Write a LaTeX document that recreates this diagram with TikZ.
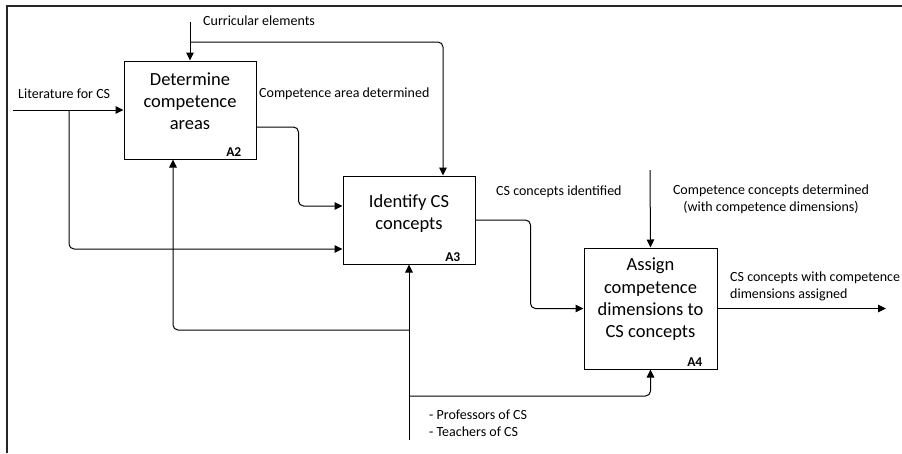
\documentclass[tikz,border=0pt]{standalone}
\usepackage{fontspec}
\setmainfont{Carlito}
\usetikzlibrary{arrows.meta}
\begin{document}
\begin{tikzpicture}[x=1pt,y=-1pt,
  procbox/.style={draw, line width=1pt, inner sep=0pt},
  boxtxt/.style={align=center, inner sep=0pt, font=\fontsize{18.5}{22.3}\selectfont},
  idlbl/.style={inner sep=0pt, anchor=south east, font=\bfseries\fontsize{13.5}{15}\selectfont},
  lbl/.style={inner sep=0pt, align=left, font=\fontsize{14}{16.7}\selectfont},
  flow/.style={line width=1pt, rounded corners=5pt, -{Triangle[length=8pt,width=7.5pt]}},
  plain/.style={line width=1pt, rounded corners=5pt}]
\useasboundingbox (0,0) rectangle (902,453);
\draw[line width=2.5pt, black!85] (7,453) -- (7,6) -- (902,6);

% boxes
\node[procbox, minimum width=132pt, minimum height=98pt] (a2) at (190,110) {};
\node[procbox, minimum width=132pt, minimum height=88pt] (a3) at (409,220) {};
\node[procbox, minimum width=133pt, minimum height=121pt] (a4) at (650.5,308.5) {};
\node[boxtxt] (t2) at (190,101) {Determine\\competence\\areas};
\node[boxtxt] (t3) at (409,213.5) {Identify CS\\concepts};
\node[boxtxt] (t4) at (650.5,299.5) {Assign\\competence\\dimensions to\\CS concepts};
\node[idlbl] (l2) at ([xshift=-15pt,yshift=3pt]a2.south east) {A2};
\node[idlbl] (l3) at ([xshift=-15pt,yshift=3pt]a3.south east) {A3};
\node[idlbl] (l4) at ([xshift=-15pt,yshift=3pt]a4.south east) {A4};

% free ends
\coordinate (ce) at (190,22);
\coordinate (j1) at (190,42);
\coordinate (lit) at (13,110);
\coordinate (j2) at (69,110);
\coordinate (cc) at (650,170);
\coordinate (out) at (886,308.5);
\coordinate (mech) at (409,440);
\coordinate (j3) at (409,330);
\coordinate (j4) at (409,396);

% controls
\draw[flow] (ce) -- (a2.north);
\draw[flow] (j1) -| ([xshift=34pt]a3.north);
\draw[flow] (cc) -- (a4.north);
% inputs
\draw[flow] (lit) -- (a2.west);
\draw[flow] (j2) |- ([yshift=-29pt]a3.west);
\draw[flow] ([yshift=-17pt]a2.east) -- ++(42,0) |- ([yshift=14pt]a3.west);
\draw[flow] (a3.east) -- ++(55,0) |- (a4.west);
% output
\draw[flow] (a4.east) -- (out);
% mechanisms
\draw[flow] (mech) -- (a3.south);
\draw[flow] (j3) -| ([xshift=-17pt]a2.south);
\draw[flow] (j4) -| (a4.south);

% labels
\node[lbl, anchor=west] (n1) at (203,21) {Curricular elements};
\node[lbl, anchor=west] (n2) at (18,94) {Literature for CS};
\node[lbl, anchor=west] (n3) at (259,94) {Competence area determined};
\node[lbl, anchor=west] (n4) at (496,192) {CS concepts identified};
\node[lbl, align=center] (n5) at (771,199) {Competence concepts determined\\(with competence dimensions)};
\node[lbl, anchor=west] (n6) at (730,286.5) {CS concepts with competence\\dimensions assigned};
\node[lbl, anchor=west] (n7) at (429,423.5) {- Professors of CS\\- Teachers of CS};
\end{tikzpicture}
\end{document}
